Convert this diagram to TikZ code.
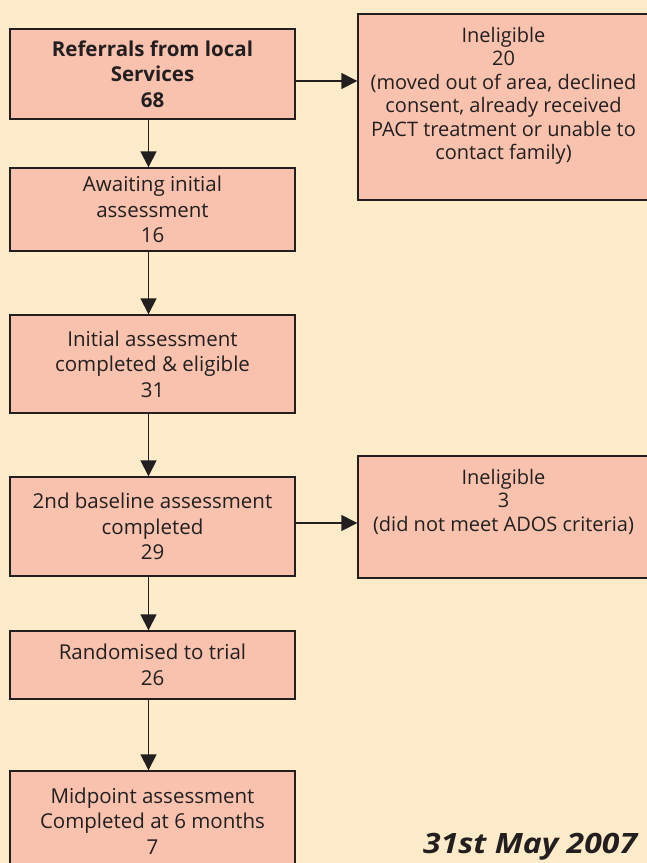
\documentclass[tikz,border=0pt]{standalone}
\usepackage{fontspec}
\setmainfont{Open Sans}
\usetikzlibrary{arrows.meta}
\definecolor{bg}{HTML}{FDEBC9}
\definecolor{boxfill}{HTML}{F9C2AE}
\definecolor{edge}{HTML}{231F20}
\begin{document}
\begin{tikzpicture}[x=1pt,y=-1pt,
  box/.style={draw=edge, line width=1.4pt, fill=boxfill, minimum width=285pt, inner sep=0pt, align=center, text=edge, font=\fontsize{20.5}{25.5}\selectfont},
  rbox/.style={draw=edge, line width=1.4pt, fill=boxfill, minimum width=291pt, inner sep=0pt},
  rtxt/.style={align=center, inner sep=0pt, text=edge, font=\fontsize{20}{23.5}\selectfont},
  arr/.style={draw=edge, line width=1.5pt, -{Triangle[length=16pt,width=16pt]}}]
\path[use as bounding box, fill=bg] (0,0) rectangle (647,863);
\clip (0,0) rectangle (647,863);
\node[box, minimum height=90pt, font=\fontsize{20.5}{25.5}\selectfont\bfseries] (b1) at (152.5,74) {Referrals from local\\Services\\68};
\node[box, minimum height=83pt] (b2) at (152.5,209.5) {Awaiting initial\\assessment\\16};
\node[box, minimum height=98pt] (b3) at (152.5,364) {Initial assessment\\completed \& eligible\\31};
\node[box, minimum height=99pt] (b4) at (152.5,526.5) {2nd baseline assessment\\completed\\29};
\node[box, minimum height=68pt] (b5) at (152.5,665) {Randomised to trial\\26};
\node[box, minimum height=100pt] (b6) at (152.5,821) {Midpoint assessment\\Completed at 6 months\\7};
\node[rbox, minimum height=186pt] (r1) at (503.5,107) {};
\node[rtxt, anchor=north] (r1t) at (503.5,27) {Ineligible\\20\\(moved out of area, declined\\consent, already received\\PACT treatment or unable to\\contact family)};
\node[rbox, minimum height=122pt] (r2) at (503.5,517) {};
\node[rtxt, anchor=north] (r2t) at (503.5,469) {Ineligible\\3\\(did not meet ADOS criteria)};
\draw[arr] ([xshift=-4pt]b1.south) -- ([xshift=-4pt]b2.north);
\draw[arr] ([xshift=-4pt]b2.south) -- ([xshift=-4pt]b3.north);
\draw[arr] ([xshift=-4pt]b3.south) -- ([xshift=-4pt]b4.north);
\draw[arr] ([xshift=-4pt]b4.south) -- ([xshift=-4pt]b5.north);
\draw[arr] ([xshift=-4pt]b5.south) -- ([xshift=-4pt]b6.north);
\draw[arr] ([yshift=-7pt]b1.east) -- ([yshift=-7pt]b1.east -| r1.west);
\draw[arr] ([yshift=3.5pt]b4.east) -- ([yshift=3.5pt]b4.east -| r2.west);
\node[anchor=base west, inner sep=0pt, text=edge, font=\fontsize{28}{30}\selectfont\bfseries\itshape] (date) at (423,853) {\scalebox{1.14}[1]{31st May 2007}};
\end{tikzpicture}
\end{document}
